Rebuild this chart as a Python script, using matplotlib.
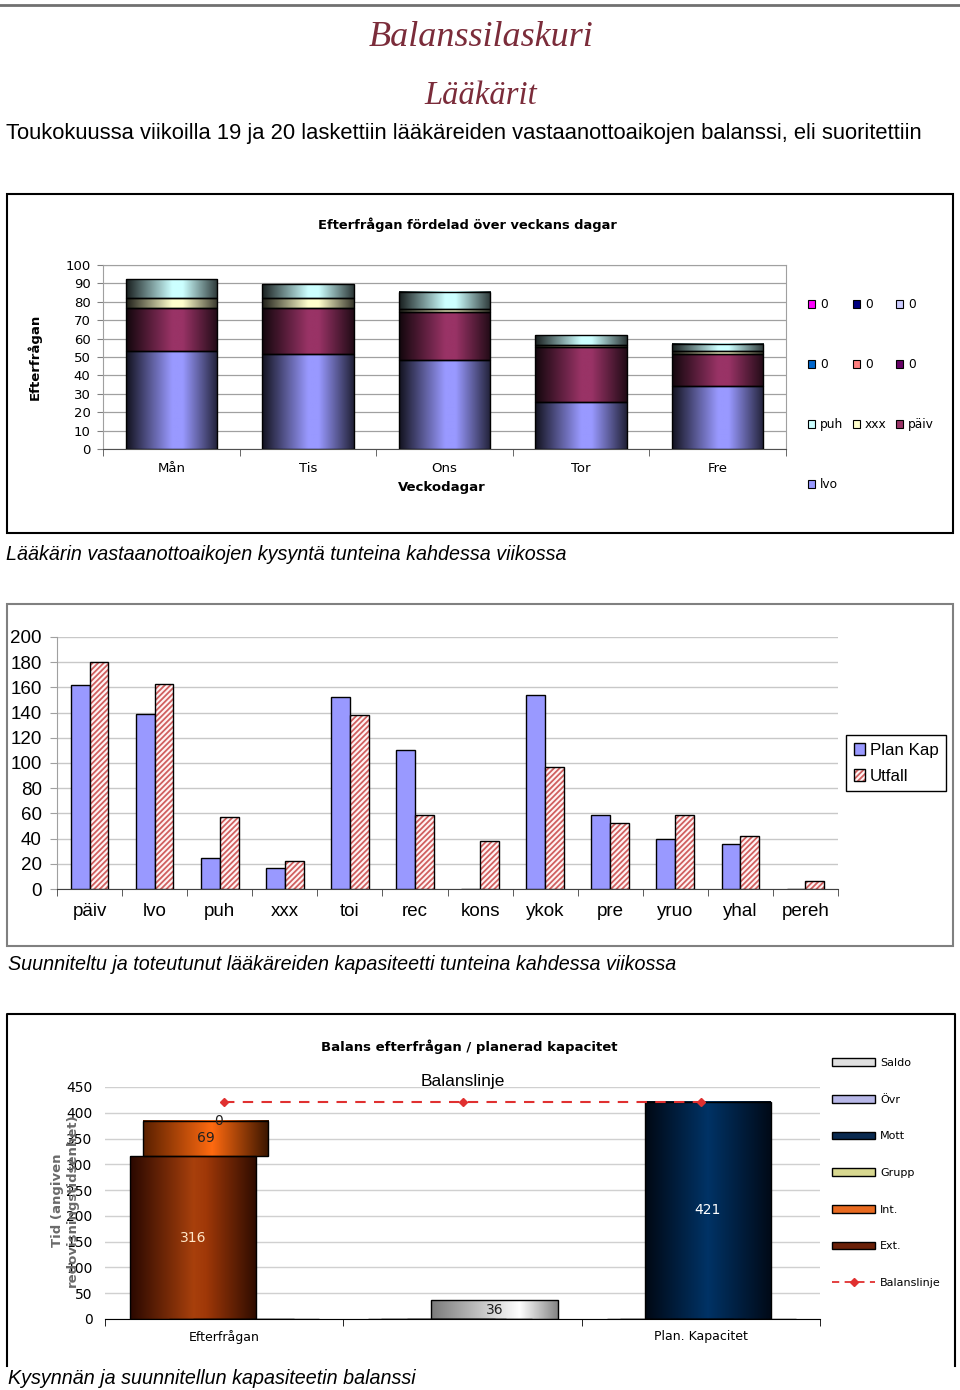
import numpy as np
import matplotlib
matplotlib.use('Agg')
import matplotlib.pyplot as plt
from matplotlib.colors import LinearSegmentedColormap, to_rgb
from matplotlib.patches import Rectangle, Patch
from matplotlib.lines import Line2D
from matplotlib.legend_handler import HandlerTuple

# --- chart 1: demand per weekday (stacked) ---
days = ['Mån', 'Tis', 'Ons', 'Tor', 'Fre']
lvo = [53.3, 51.5, 48.2, 25.5, 34.2]
paiv = [23.1, 24.9, 26.3, 30.0, 17.3]
xxx = [5.8, 5.8, 1.5, 1.2, 1.5]
puh = [10.2, 7.6, 9.5, 5.1, 4.3]
zero_names = ['0', '0', '0', '0', '0', '0']
zero_vals = [0, 0, 0, 0, 0]

# --- chart 2: planned vs actual capacity ---
cats2 = ['päiv', 'lvo', 'puh', 'xxx', 'toi', 'rec', 'kons', 'ykok', 'pre', 'yruo', 'yhal', 'pereh']
plan_kap = [162, 139, 25, 17, 152, 110, 0, 154, 59, 40, 36, 0]
utfall = [180, 163, 57, 22, 138, 59, 38, 97, 52, 59, 42, 6]

# --- chart 3: balance demand / planned capacity ---
cats3 = ['Efterfrågan', '', 'Plan. Kapacitet']
ext = [316, 0, 0]
intern = [69, 0, 0]
grupp = [0, 0, 0]
saldo = [0, 36, 0]
mott = [0, 0, 421]
balans = [421, 421, 421]

W, H = 960, 1390
fig = plt.figure(figsize=(9.6, 13.9), dpi=100)


def box(x0, y0, x1, y1):
    return [x0 / W, 1 - y1 / H, (x1 - x0) / W, (y1 - y0) / H]


def fx(x):
    return x / W


def fy(y):
    return 1 - y / H


def shade(ax, bars, stops):
    cmap = LinearSegmentedColormap.from_list('g', stops)
    grad = np.linspace(0, 1, 128)[None, :]
    for b in bars:
        if b.get_height() <= 0:
            continue
        x0, y0 = b.get_x(), b.get_y()
        ax.imshow(grad, cmap=cmap, aspect='auto', interpolation='bilinear',
                  extent=(x0, x0 + b.get_width(), y0, y0 + b.get_height()), zorder=2)
        b.set_facecolor('none')


def cyl(color, lo=0.12, hi=0.22):
    c = np.array(to_rgb(color))
    return [(0, c * lo), (0.5, c), (0.62, c), (1, c * hi)]


def frame_line(xs, ys, **kw):
    fig.add_artist(Line2D([fx(v) for v in xs], [fy(v) for v in ys],
                          transform=fig.transFigure, **kw))


# header
frame_line([0, 960], [5, 5], color='#707070', lw=2)
fig.text(fx(481), fy(37), 'Balanssilaskuri', family='Liberation Serif', style='italic',
         size=26, color='#7B2C3A', ha='center', va='center')
fig.text(fx(481), fy(96), 'Lääkärit', family='Liberation Serif', style='italic',
         size=23.5, color='#7B2C3A', ha='center', va='center')
fig.text(fx(6), fy(134), 'Toukokuussa viikoilla 19 ja 20 laskettiin lääkäreiden '
         'vastaanottoaikojen balanssi, eli suoritettiin',
         family='Liberation Sans', size=15.8, ha='left', va='center')

# ================= chart 1 =================
fig.add_artist(Rectangle((fx(7), fy(533)), (953 - 7) / W, (533 - 194) / H,
                         transform=fig.transFigure, fill=False, ec='black', lw=1.5))
fig.text(fx(467), fy(225), 'Efterfrågan fördelad över veckans dagar',
         weight='bold', size=9.4, ha='center', va='center')

ax1 = fig.add_axes(box(103, 265, 786, 449))
x1 = np.arange(len(days))
bottom = np.zeros(len(days))
for vals, col in [(lvo, '#9999FF'), (paiv, '#993366'), (xxx, '#FFFFCC'), (puh, '#CCFFFF')]:
    bars = ax1.bar(x1, vals, 0.67, bottom=bottom, color=col, edgecolor='black', lw=1, zorder=3)
    shade(ax1, bars, cyl(col))
    bottom += np.array(vals)
zero_cols = ['#660066', '#FF8080', '#0066CC', '#CCCCFF', '#000080', '#FF00FF']
for name, col in zip(zero_names, zero_cols):
    ax1.bar(x1, zero_vals, 0.67, bottom=bottom, color=col, lw=0, zorder=3)

ax1.set_xlim(-0.5, len(days) - 0.5)
ax1.set_ylim(0, 100)
ax1.set_yticks(range(0, 101, 10))
ax1.set_xticks(x1, days)
ax1.set_xticks(np.arange(-0.5, len(days)), minor=True)
ax1.yaxis.grid(True, color='#A0A0A0', lw=0.9, zorder=0)
ax1.set_axisbelow(True)
for s in ax1.spines.values():
    s.set_color('#A0A0A0')
ax1.spines['bottom'].set_color('#505050')
ax1.tick_params(axis='y', labelsize=9.5, length=4, color='#808080', pad=5)
ax1.tick_params(axis='x', which='major', length=0, labelsize=9.5, pad=9)
ax1.tick_params(axis='x', which='minor', length=5, color='#505050')
ax1.set_xlabel('Veckodagar', weight='bold', size=9.5)
ax1.xaxis.set_label_coords((442 - 103) / 683, (449 - 481) / 184)
ax1.set_ylabel('Efterfrågan', weight='bold', size=9.5)
ax1.yaxis.set_label_coords((42 - 103) / 683, 0.5)

rows = [('0', '#FF00FF'), ('0', '#000080'), ('0', '#CCCCFF'),
        ('0', '#0066CC'), ('0', '#FF8080'), ('0', '#660066'),
        ('puh', '#CCFFFF'), ('xxx', '#FFFFCC'), ('päiv', '#993366'), ('lvo', '#9999FF')]
order = [0, 3, 6, 9, 1, 4, 7, 2, 5, 8]
h1 = [Patch(facecolor=rows[i][1], edgecolor='black', lw=0.8) for i in order]
l1 = [rows[i][0] for i in order]
ax1.legend(h1, l1, ncols=3, loc='upper left', bbox_to_anchor=(fx(808), fy(298)),
           bbox_transform=fig.transFigure, frameon=False, fontsize=8.8,
           handlelength=0.6, handleheight=0.6, handletextpad=0.4, labelspacing=3.85,
           columnspacing=0.75, borderpad=0, borderaxespad=0)

fig.text(fx(6), fy(555), 'Lääkärin vastaanottoaikojen kysyntä tunteina kahdessa viikossa',
         family='Liberation Sans', style='italic', size=14.2, ha='left', va='center')

# ================= chart 2 =================
fig.add_artist(Rectangle((fx(7), fy(946)), (953 - 7) / W, (946 - 604) / H,
                         transform=fig.transFigure, fill=False, ec='#808080', lw=1.5))
matplotlib.rcParams['hatch.linewidth'] = 1.3
ax2 = fig.add_axes(box(57, 637, 838, 889))
x2 = np.arange(len(cats2))
ax2.bar(x2 - 0.145, plan_kap, 0.29, color='#9999FF', edgecolor='black', lw=1, zorder=3)
ax2.bar(x2 + 0.145, utfall, 0.29, color='#FFF4F4', edgecolor='#D06060', hatch='//////', lw=0, zorder=3)
ax2.bar(x2 + 0.145, utfall, 0.29, fill=False, edgecolor='black', lw=1, zorder=4)
ax2.set_xlim(-0.5, len(cats2) - 0.5)
ax2.set_ylim(0, 200)
ax2.set_yticks(range(0, 201, 20))
ax2.set_xticks(x2, cats2)
ax2.set_xticks(np.arange(-0.5, len(cats2)), minor=True)
ax2.yaxis.grid(True, color='#C8C8C8', lw=1, zorder=0)
ax2.set_axisbelow(True)
ax2.spines['top'].set_visible(False)
ax2.spines['right'].set_visible(False)
ax2.spines['left'].set_color('#A0A0A0')
ax2.spines['bottom'].set_color('#404040')
for lab in ax2.get_xticklabels() + ax2.get_yticklabels():
    lab.set_family('Liberation Sans')
ax2.tick_params(axis='y', labelsize=13.5, length=5, color='#A0A0A0', pad=6)
ax2.tick_params(axis='x', which='major', length=0, labelsize=13.5, pad=10)
ax2.tick_params(axis='x', which='minor', length=5, color='#404040')
h2 = [Patch(facecolor='#9999FF', edgecolor='black', lw=1),
      (Patch(facecolor='#FFF4F4', edgecolor='#D06060', hatch='//////', lw=0),
       Patch(fill=False, edgecolor='black', lw=1))]
leg2 = ax2.legend(h2, ['Plan Kap', 'Utfall'], loc='upper left',
                  bbox_to_anchor=(fx(846), fy(735)), bbox_transform=fig.transFigure,
                  handler_map={tuple: HandlerTuple(ndivide=1)},
                  prop={'family': 'Liberation Sans', 'size': 12.2}, fancybox=False,
                  edgecolor='black', framealpha=1, handlelength=0.7, handleheight=0.7,
                  handletextpad=0.25, labelspacing=0.65, borderpad=0.45, borderaxespad=0)
leg2.get_frame().set_linewidth(1)

fig.text(fx(8), fy(964), 'Suunniteltu ja toteutunut lääkäreiden kapasiteetti tunteina kahdessa viikossa',
         family='Liberation Sans', style='italic', size=14.2, ha='left', va='center')

# ================= chart 3 =================
frame_line([7, 7, 955, 955], [1366, 1014, 1014, 1366], color='black', lw=1.5)
fig.text(fx(469), fy(1047), 'Balans efterfrågan / planerad kapacitet',
         weight='bold', size=9.5, ha='center', va='center')

ax3 = fig.add_axes(box(105, 1087, 820, 1319))
x3 = np.arange(len(cats3))
b_ext = ax3.bar(x3 - 0.13, ext, 0.53, color='#A03808', edgecolor='black', lw=1, zorder=3)
shade(ax3, b_ext, [(0, '#2a0800'), (0.5, '#A8400C'), (0.6, '#A03808'), (1, '#2e0c00')])
b_int = ax3.bar(x3 - 0.078, intern, 0.525, bottom=ext, color='#FF6A10', edgecolor='black',
                lw=1, zorder=3)
shade(ax3, b_int, [(0, '#5a2000'), (0.55, '#FF6A10'), (1, '#3a1500')])
top = np.array(ext) + np.array(intern)
b_grp = ax3.bar(x3 - 0.025, grupp, 0.5, bottom=top, color='#E8E8A0', lw=0, zorder=3)
b_sal = ax3.bar(x3 + 0.134, saldo, 0.53, color='#D0D0D0', edgecolor='black', lw=1, zorder=3)
shade(ax3, b_sal, [(0, '#7a7a7a'), (0.7, '#FFFFFF'), (1, '#858585')])
b_mot = ax3.bar(x3 + 0.03, mott, 0.525, color='#003366', edgecolor='black', lw=1, zorder=3)
shade(ax3, b_mot, [(0, '#000814'), (0.5, '#003366'), (1, '#000a18')])
ax3.plot(x3, balans, ls=(0, (5, 4)), color='#E03030', lw=1.5, marker='D', ms=4, zorder=5)
ax3.text(1, 460, 'Balanslinje', family='Liberation Sans', size=12.5, ha='center', va='center')

lab = dict(size=10, label_type='center')
ax3.bar_label(b_ext, labels=[f'{v}' if v else '' for v in ext], color='#FFE8C8', **lab)
ax3.bar_label(b_int, labels=[f'{v}' if v else '' for v in intern], color='#202020', **lab)
ax3.bar_label(b_grp, labels=['0', '', ''], color='#202020', **lab)
ax3.bar_label(b_sal, labels=[f'{v}' if v else '' for v in saldo], color='#202020', **lab)
ax3.bar_label(b_mot, labels=[f'{v}' if v else '' for v in mott], color='white', **lab)

ax3.set_xlim(-0.5, len(cats3) - 0.5)
ax3.set_ylim(0, 450)
ax3.set_yticks(range(0, 451, 50))
ax3.set_xticks(x3, cats3)
ax3.set_xticks(np.arange(-0.5, len(cats3)), minor=True)
ax3.yaxis.grid(True, color='#D0D0D0', lw=1, zorder=0)
ax3.set_axisbelow(True)
for s in ['top', 'right', 'left']:
    ax3.spines[s].set_visible(False)
ax3.spines['bottom'].set_color('black')
ax3.tick_params(axis='y', labelsize=10, length=0, pad=9)
ax3.tick_params(axis='x', which='major', length=0, labelsize=9, pad=8)
ax3.tick_params(axis='x', which='minor', length=5, color='black')
ax3.set_ylabel('Tid (angiven\nredovisningstidsenhet)', weight='bold', size=9.5,
               color='#6a6a6a', linespacing=1.2)
ax3.yaxis.set_label_coords((79 - 105) / 715, 0.51)

h3 = [Patch(facecolor='#E0E0E0', edgecolor='black', lw=1),
      Patch(facecolor='#B8B8E8', edgecolor='black', lw=1),
      Patch(facecolor='#0A2A50', edgecolor='black', lw=1),
      Patch(facecolor='#D8D890', edgecolor='black', lw=1),
      Patch(facecolor='#E86A20', edgecolor='black', lw=1),
      Patch(facecolor='#6a2008', edgecolor='black', lw=1),
      Line2D([], [], ls=(0, (4, 3)), color='#E03030', lw=1.3, marker='D', ms=4)]
l3 = ['Saldo', 'Övr', 'Mott', 'Grupp', 'Int.', 'Ext.', 'Balanslinje']
ax3.legend(h3, l3, loc='upper left', bbox_to_anchor=(fx(832), fy(1058)),
           bbox_transform=fig.transFigure, frameon=False, fontsize=8,
           handlelength=3.9, handleheight=0.7, handletextpad=0.45, labelspacing=2.4,
           borderpad=0, borderaxespad=0)

fig.text(fx(8), fy(1378), 'Kysynnän ja suunnitellun kapasiteetin balanssi',
         family='Liberation Sans', style='italic', size=14.2, ha='left', va='center')

fig.savefig('out.png', dpi=100)
